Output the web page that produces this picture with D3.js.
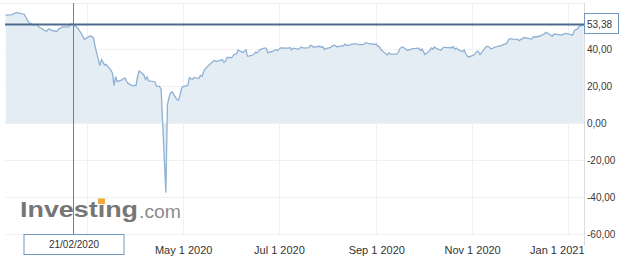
<!DOCTYPE html>
<html>
<head>
<meta charset="utf-8">
<script src="https://cdn.jsdelivr.net/npm/d3@7"></script>
<style>
html, body { margin: 0; padding: 0; background: #fff; overflow: hidden; }
svg { display: block; font-family: Arial, "Liberation Sans", sans-serif; }
</style>
</head>
<body>
<svg id="chart"></svg>
<script>
// daily closes
const days = [
  "2020-01-09","2020-01-10","2020-01-13","2020-01-14","2020-01-15","2020-01-16","2020-01-17","2020-01-21","2020-01-22","2020-01-23","2020-01-24","2020-01-27","2020-01-28","2020-01-29","2020-01-30","2020-01-31",
  "2020-02-03","2020-02-04","2020-02-05","2020-02-06","2020-02-07","2020-02-10","2020-02-11","2020-02-12","2020-02-13","2020-02-14","2020-02-18","2020-02-19","2020-02-20","2020-02-21","2020-02-24","2020-02-25","2020-02-26","2020-02-27","2020-02-28",
  "2020-03-02","2020-03-03","2020-03-04","2020-03-05","2020-03-06","2020-03-09","2020-03-10","2020-03-11","2020-03-12","2020-03-13","2020-03-16","2020-03-17","2020-03-18","2020-03-19","2020-03-20","2020-03-23","2020-03-24","2020-03-25","2020-03-26","2020-03-27","2020-03-30","2020-03-31",
  "2020-04-01","2020-04-02","2020-04-03","2020-04-06","2020-04-07","2020-04-08","2020-04-09","2020-04-13","2020-04-14","2020-04-15","2020-04-16","2020-04-17","2020-04-20","2020-04-21","2020-04-22","2020-04-23","2020-04-24","2020-04-27","2020-04-28","2020-04-29","2020-04-30",
  "2020-05-01","2020-05-04","2020-05-05","2020-05-06","2020-05-07","2020-05-08","2020-05-11","2020-05-12","2020-05-13","2020-05-14","2020-05-15","2020-05-18","2020-05-19","2020-05-20","2020-05-21","2020-05-22","2020-05-26","2020-05-27","2020-05-28","2020-05-29",
  "2020-06-01","2020-06-02","2020-06-03","2020-06-04","2020-06-05","2020-06-08","2020-06-09","2020-06-10","2020-06-11","2020-06-12","2020-06-15","2020-06-16","2020-06-17","2020-06-18","2020-06-19","2020-06-22","2020-06-23","2020-06-24","2020-06-25","2020-06-26","2020-06-29","2020-06-30",
  "2020-07-01","2020-07-02","2020-07-06","2020-07-07","2020-07-08","2020-07-09","2020-07-10","2020-07-13","2020-07-14","2020-07-15","2020-07-16","2020-07-17","2020-07-20","2020-07-21","2020-07-22","2020-07-23","2020-07-24","2020-07-27","2020-07-28","2020-07-29","2020-07-30","2020-07-31",
  "2020-08-03","2020-08-04","2020-08-05","2020-08-06","2020-08-07","2020-08-10","2020-08-11","2020-08-12","2020-08-13","2020-08-14","2020-08-17","2020-08-18","2020-08-19","2020-08-20","2020-08-21","2020-08-24","2020-08-25","2020-08-26","2020-08-27","2020-08-28","2020-08-31",
  "2020-09-01","2020-09-02","2020-09-03","2020-09-04","2020-09-08","2020-09-09","2020-09-10","2020-09-11","2020-09-14","2020-09-15","2020-09-16","2020-09-17","2020-09-18","2020-09-21","2020-09-22","2020-09-23","2020-09-24","2020-09-25","2020-09-28","2020-09-29","2020-09-30",
  "2020-10-01","2020-10-02","2020-10-05","2020-10-06","2020-10-07","2020-10-08","2020-10-09","2020-10-12","2020-10-13","2020-10-14","2020-10-15","2020-10-16","2020-10-19","2020-10-20","2020-10-21","2020-10-22","2020-10-23","2020-10-26","2020-10-27","2020-10-28","2020-10-29","2020-10-30",
  "2020-11-02","2020-11-03","2020-11-04","2020-11-05","2020-11-06","2020-11-09","2020-11-10","2020-11-11","2020-11-12","2020-11-13","2020-11-16","2020-11-17","2020-11-18","2020-11-19","2020-11-20","2020-11-23","2020-11-24","2020-11-25","2020-11-27","2020-11-30",
  "2020-12-01","2020-12-02","2020-12-03","2020-12-04","2020-12-07","2020-12-08","2020-12-09","2020-12-10","2020-12-11","2020-12-14","2020-12-15","2020-12-16","2020-12-17","2020-12-18","2020-12-21","2020-12-22","2020-12-23","2020-12-24","2020-12-28","2020-12-29","2020-12-30","2020-12-31",
  "2021-01-04","2021-01-05","2021-01-06","2021-01-07","2021-01-08","2021-01-11"
];
const closes = [
  58.5,58.4,58.7,59.1,59.5,59.8,59.6,58.8,57.0,55.6,54.2,53.1,53.5,53.3,52.1,51.6,
  50.1,49.6,50.8,51.0,50.3,49.6,49.9,51.2,51.4,52.1,52.1,53.3,53.8,53.38,51.4,49.9,48.7,47.1,45.3,
  46.8,47.2,46.8,45.9,41.3,31.1,34.4,33.0,31.5,31.7,28.7,27.0,20.4,25.2,22.4,23.4,24.0,24.5,22.6,21.5,20.1,20.5,
  20.3,25.3,28.3,26.1,23.6,25.1,22.8,22.4,20.1,19.9,19.9,18.3,-37.6,10.0,13.8,16.5,16.9,12.8,12.3,15.1,18.8,
  19.8,20.4,24.6,24.0,23.6,24.7,24.1,25.8,25.3,27.6,29.4,31.8,32.5,33.5,33.9,33.3,34.4,32.8,33.7,35.5,
  35.4,36.8,37.3,37.4,39.6,38.2,38.9,39.6,36.3,36.3,37.1,38.4,38.0,38.8,39.8,40.7,40.4,38.0,38.7,38.5,39.7,39.3,
  39.8,40.7,40.6,40.6,40.9,39.6,40.6,40.1,40.3,41.2,40.8,40.6,40.8,42.0,41.9,41.1,41.3,41.6,41.0,41.3,39.9,40.3,
  41.0,41.7,42.2,42.0,41.2,41.9,41.6,42.7,42.2,42.0,42.9,42.9,42.9,42.8,42.3,42.6,43.4,43.4,43.0,43.0,42.6,
  42.8,41.5,41.4,39.8,36.8,38.1,37.3,37.3,37.3,38.3,40.2,41.0,41.1,39.3,39.8,39.9,40.3,40.3,40.6,39.3,40.2,
  38.7,37.1,39.2,40.7,40.0,41.2,40.6,39.4,40.2,41.0,41.0,40.9,40.8,41.5,40.0,40.6,39.9,38.6,39.6,37.4,36.2,35.8,
  36.8,37.7,38.8,38.8,37.1,40.3,41.4,41.5,41.1,40.1,41.3,41.4,41.8,41.7,42.2,43.1,44.9,45.7,45.5,45.3,
  44.6,45.3,45.6,46.3,45.8,45.6,45.5,46.8,46.6,47.0,47.6,47.8,48.4,49.1,47.7,47.0,48.1,48.2,47.6,48.0,48.4,48.5,
  47.6,49.9,50.6,50.8,52.2,53.3
];
const yTicks = [-60, -40, -20, 0, 20, 40];
const gridDays = ["2020-03-01", "2020-05-01", "2020-07-01", "2020-09-01", "2020-11-01", "2021-01-01"];
const labelDays = ["2020-05-01", "2020-07-01", "2020-09-01", "2020-11-01", "2021-01-01"];
const markerDay = "2020-02-21";
const markerValue = 53.38;

const width = 626, height = 261;
const plotL = 5, plotR = 584, plotT = 3, plotB = 234;

const svg = d3.select("#chart").attr("width", width).attr("height", height);
const parse = d3.utcParse("%Y-%m-%d");
const data = days.map((d, i) => ({date: parse(d), value: closes[i]}));

const x = d3.scaleUtc()
    .domain([new Date(Date.UTC(2020, 0, 8, 14)), new Date(Date.UTC(2021, 0, 11, 6))])
    .range([plotL, plotR]);
const y = d3.scaleLinear().domain([-60, 65]).range([plotB, plotT]);

const locale = d3.formatLocale({decimal: ",", thousands: ".", grouping: [3], currency: ["", ""], minus: "-"});
const num = locale.format(".2f");

// frame + grid
svg.append("line").attr("x1", 0).attr("x2", plotR).attr("y1", plotT + 0.5).attr("y2", plotT + 0.5)
    .attr("stroke", "#ececec");
svg.selectAll(".hgrid")
    .data(yTicks)
    .enter().append("line")
    .attr("class", "hgrid")
    .attr("x1", plotL).attr("x2", plotR)
    .attr("y1", d => Math.round(y(d)) + 0.5).attr("y2", d => Math.round(y(d)) + 0.5)
    .attr("stroke", "#f1f1f1");
svg.selectAll(".vgrid")
    .data(gridDays.map(parse))
    .enter().append("line")
    .attr("class", "vgrid")
    .attr("x1", d => Math.round(x(d)) + 0.5).attr("x2", d => Math.round(x(d)) + 0.5)
    .attr("y1", plotT).attr("y2", plotB)
    .attr("stroke", "#f1f1f1");
svg.append("line").attr("x1", plotR + 0.5).attr("x2", plotR + 0.5).attr("y1", plotT).attr("y2", 246)
    .attr("stroke", "#dcdcdc");

// watermark
const mark = svg.append("g");
mark.append("text")
    .attr("x", 20).attr("y", 217)
    .attr("font-size", 22).attr("font-weight", "bold")
    .attr("fill", "#767676")
    .attr("textLength", 118).attr("lengthAdjust", "spacingAndGlyphs")
    .text("Investing");
mark.append("rect")
    .attr("x", 98).attr("y", 198.5).attr("width", 7).attr("height", 5.5)
    .attr("fill", "#f2a93b");
mark.append("text")
    .attr("x", 139).attr("y", 218)
    .attr("font-size", 18)
    .attr("fill", "#8c8c8c")
    .attr("textLength", 42).attr("lengthAdjust", "spacingAndGlyphs")
    .text(".com");

// area + line
const area = d3.area().x(d => x(d.date)).y0(y(0)).y1(d => y(d.value));
const line = d3.line().x(d => x(d.date)).y(d => y(d.value));

svg.append("path")
    .datum(data)
    .attr("d", area)
    .attr("fill", "#e4ecf4");
svg.append("path")
    .datum(data)
    .attr("d", line)
    .attr("fill", "none")
    .attr("stroke", "#8fb1d3")
    .attr("stroke-width", 1.3);

// crosshair
const mx = Math.round(x(parse(markerDay))) + 0.5;
const my = y(markerValue);
svg.append("line")
    .attr("x1", plotL).attr("x2", plotR).attr("y1", my).attr("y2", my)
    .attr("stroke", "#4d6a8d").attr("stroke-width", 2);
svg.append("line")
    .attr("x1", mx).attr("x2", mx).attr("y1", plotT).attr("y2", plotB)
    .attr("stroke", "#5a86b3").attr("stroke-width", 1);

// axes
const yAxis = svg.append("g")
    .attr("transform", `translate(${plotR},0)`)
    .call(d3.axisRight(y).tickValues(yTicks).tickSize(0).tickPadding(3).tickFormat(num));
yAxis.select(".domain").remove();
yAxis.selectAll("text").attr("font-size", 10).attr("fill", "#3a3a3a").attr("font-family", null);

const xAxis = svg.append("g")
    .attr("transform", `translate(0,236)`)
    .call(d3.axisBottom(x).tickValues(labelDays.map(parse)).tickSize(0).tickPadding(10)
        .tickFormat(d3.utcFormat("%b %-d %Y")));
xAxis.select(".domain").remove();
xAxis.selectAll("text").attr("font-size", 11).attr("fill", "#333").attr("font-family", null);
xAxis.selectAll(".tick").filter((d, i, n) => i === n.length - 1).select("text")
    .attr("text-anchor", "end")
    .attr("x", plotR - x(parse(labelDays[labelDays.length - 1])));

// value + date labels
svg.append("rect")
    .attr("x", plotR + 0.5).attr("y", Math.round(my) - 10.5).attr("width", 34).attr("height", 20)
    .attr("fill", "#fff").attr("stroke", "#7097c0");
svg.append("text")
    .attr("x", plotR + 3).attr("y", Math.round(my) + 3.5)
    .attr("font-size", 10).attr("fill", "#333")
    .text(num(markerValue));

svg.append("rect")
    .attr("x", mx - 49.5).attr("y", 234.5).attr("width", 100).attr("height", 20)
    .attr("fill", "#fff").attr("stroke", "#7097c0");
svg.append("text")
    .attr("x", mx + 0.5).attr("y", 248)
    .attr("text-anchor", "middle")
    .attr("font-size", 10).attr("fill", "#333")
    .text(d3.utcFormat("%d/%m/%Y")(parse(markerDay)));
</script>
</body>
</html>
